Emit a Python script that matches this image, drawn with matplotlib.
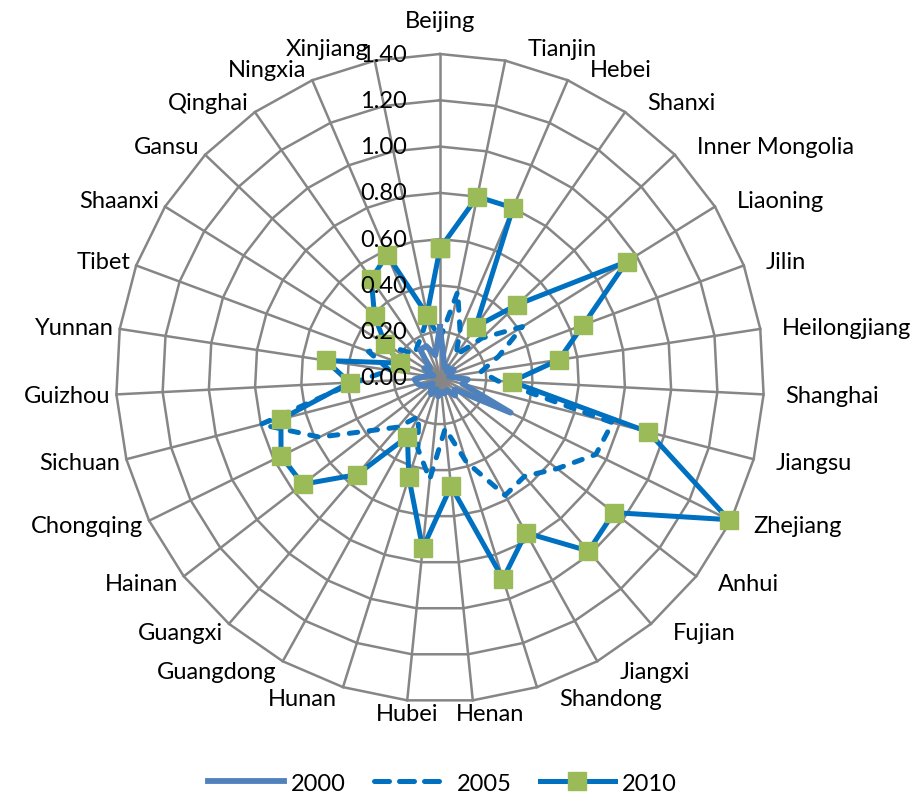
import numpy as np
import matplotlib
matplotlib.use("Agg")
import matplotlib.pyplot as plt
from matplotlib.lines import Line2D
import matplotlib.transforms as mtransforms

provinces = ["Beijing", "Tianjin", "Hebei", "Shanxi", "Inner Mongolia", "Liaoning", "Jilin",
             "Heilongjiang", "Shanghai", "Jiangsu", "Zhejiang", "Anhui", "Fujian", "Jiangxi",
             "Shandong", "Henan", "Hubei", "Hunan", "Guangdong", "Guangxi", "Hainan",
             "Chongqing", "Sichuan", "Guizhou", "Yunnan", "Tibet", "Shaanxi", "Gansu",
             "Qinghai", "Ningxia", "Xinjiang"]

v2000 = [0.22, 0.08, 0.05, 0.06, 0.04, 0.07, 0.05, 0.04, 0.12, 0.10, 0.34, 0.08, 0.10, 0.06,
         0.07, 0.06, 0.08, 0.05, 0.08, 0.06, 0.04, 0.08, 0.10, 0.11, 0.06, 0.03, 0.08, 0.06,
         0.15, 0.15, 0.10]
v2005 = [0.17, 0.38, 0.22, 0.12, 0.25, 0.42, 0.27, 0.18, 0.25, 0.77, 0.75, 0.64, 0.56, 0.58,
         0.38, 0.22, 0.44, 0.32, 0.19, 0.28, 0.37, 0.58, 0.80, 0.37, 0.22, 0.33, 0.26, 0.15,
         0.17, 0.20, 0.27]
v2010 = [0.56, 0.80, 0.80, 0.27, 0.46, 0.95, 0.66, 0.52, 0.31, 0.93, 1.39, 0.95, 0.985, 0.765,
         0.91, 0.47, 0.74, 0.45, 0.29, 0.55, 0.75, 0.765, 0.71, 0.39, 0.50, 0.185, 0.28, 0.39,
         0.52, 0.58, 0.28]
series_names = ["2000", "2005", "2010"]
rticks = [0.0, 0.2, 0.4, 0.6, 0.8, 1.0, 1.2, 1.4]
rtick_labels = ["0.00", "0.20", "0.40", "0.60", "0.80", "1.00", "1.20", "1.40"]

FONT = "Lato"
FS = 17
GRID = "#868686"
C2000 = "#4F81BD"
CBLUE = "#0070C0"
CGREEN = "#9BBB59"

W, H = 924, 803
fig = plt.figure(figsize=(W / 100, H / 100), dpi=100)
cx, cy, R = 440, 379, 324
ax = fig.add_axes([(cx - R) / W, (H - cy - R) / H, 2 * R / W, 2 * R / H], projection="polar")
ax.set_theta_zero_location("N")
ax.set_theta_direction(-1)
ax.set_ylim(0, 1.4)
ax.set_axis_off()

n = len(provinces)
ang = np.arange(n) * 2 * np.pi / n
ang_c = np.append(ang, ang[0])

# polygon grid
for r in rticks[1:]:
    ax.plot(ang_c, [r] * (n + 1), color=GRID, lw=1.8, zorder=1, clip_on=False)
for a in ang:
    ax.plot([a, a], [0, 1.4], color=GRID, lw=1.8, zorder=1, clip_on=False)

def closed(v):
    return np.append(v, v[0])

ax.plot(ang_c, closed(v2005), color=CBLUE, lw=3.6, linestyle=(0, (1.7, 2.3)),
        dash_capstyle="round", zorder=3, clip_on=False)
ax.plot(ang_c, closed(v2000), color=C2000, lw=4.2, zorder=4, clip_on=False)
ax.plot(ang_c, closed(v2010), color=CBLUE, lw=3.6, zorder=5, clip_on=False,
        marker="s", markersize=12.5, markerfacecolor=CGREEN, markeredgecolor=CGREEN)

# radial tick labels
tr = mtransforms.offset_copy(ax.transData, fig=fig, x=-33, y=0, units="dots")
for r, lab in zip(rticks, rtick_labels):
    ax.text(0, r, lab, transform=tr, ha="right", va="center", fontsize=FS,
            family=FONT, color="black", zorder=6)

# category labels
for a, lab in zip(ang, provinces):
    s, c = np.sin(a), np.cos(a)
    if abs(s) < 0.15:
        ha = "center"
        dx = 17 if s > 0.05 else 0
        if c > 0:
            dy = 33
        else:
            dy = -13
    else:
        ha = "left" if s > 0 else "right"
        dx = 22 if s > 0 else -6
        dy = 12 * c
    t = mtransforms.offset_copy(ax.transData, fig=fig, x=dx, y=dy, units="dots")
    ax.text(a, 1.4, lab, transform=t, ha=ha, va="center", fontsize=FS, family=FONT,
            color="black")

handles = [
    Line2D([], [], color=C2000, lw=4.2),
    Line2D([], [], color=CBLUE, lw=3.6, linestyle=(0, (3.0, 2.0)), dash_capstyle="round"),
    Line2D([], [], color=CBLUE, lw=3.6, marker="s", markersize=12.5,
           markerfacecolor=CGREEN, markeredgecolor=CGREEN),
]
fig.legend(handles, series_names, loc="lower center", bbox_to_anchor=(0.479, -0.016),
           ncol=3, frameon=False, handlelength=3.2, columnspacing=1.2, handletextpad=0.3,
           prop={"family": FONT, "size": FS})

fig.savefig("out.png", dpi=100)
